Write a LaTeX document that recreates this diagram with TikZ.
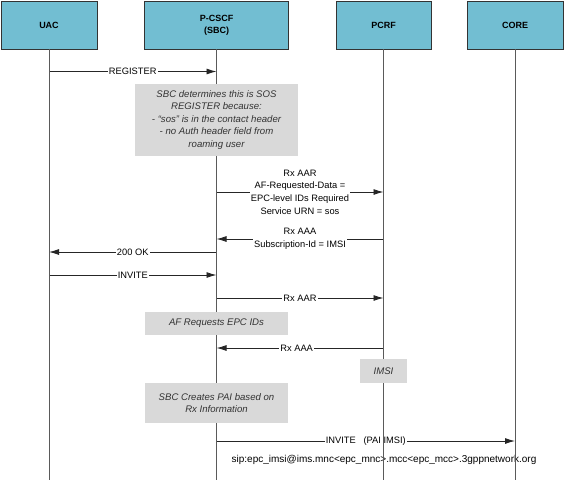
\documentclass[tikz,border=0pt]{standalone}
\usepackage{fontspec}
\setmainfont{Liberation Sans}
\usetikzlibrary{arrows.meta}
\definecolor{hdrfill}{RGB}{114,190,210}
\definecolor{notefill}{RGB}{217,217,217}
\definecolor{lifegray}{RGB}{90,90,90}
\tikzset{
  hdr/.style={draw=black!80, line width=0.9pt, fill=hdrfill, minimum height=48pt, inner sep=0pt, align=center, font=\fontsize{9}{12}\selectfont\bfseries},
  life/.style={draw=lifegray, line width=1pt},
  msg/.style={draw=black!85, line width=0.9pt, -{Latex[length=10pt,width=6pt]}},
  lbl/.style={fill=white, inner sep=1pt, align=center, font=\fontsize{9.3}{12.6}\selectfont},
  note/.style={fill=notefill, inner sep=0pt, align=center, text=black!80, font=\fontsize{9.6}{12.5}\selectfont\itshape},
  plain/.style={inner sep=0pt, font=\fontsize{10}{12}\selectfont}
}
\begin{document}
\begin{tikzpicture}[x=1pt,y=-1pt]
\useasboundingbox (0,0) rectangle (564,480);
% headers
\node[hdr, minimum width=96pt] (uac) at (49,25) {UAC};
\node[hdr, minimum width=144pt] (pcscf) at (216.5,25) {P-CSCF\\(SBC)};
\node[hdr, minimum width=95pt] (pcrf) at (383.5,25) {PCRF};
\node[hdr, minimum width=96pt] (core) at (515,25) {CORE};
% bottom ends of lifelines
\coordinate (uacE) at (49,480);
\coordinate (pcscfE) at (216.5,480);
\coordinate (pcrfE) at (383.5,480);
\coordinate (coreE) at (515,480);
% message levels
\coordinate (m1) at (0,71.5);
\coordinate (m2) at (0,192);
\coordinate (m3) at (0,239);
\coordinate (m4) at (0,252);
\coordinate (m5) at (0,275);
\coordinate (m6) at (0,298);
\coordinate (m7) at (0,348);
\coordinate (m8) at (0,441);
% messages
\draw[msg] (uac |- m1) -- node[lbl] (l1) {REGISTER} (pcscf |- m1);
\draw[msg] (pcscf |- m2) -- node[lbl] (l2) {Rx AAR\\AF-Requested-Data =\\EPC-level IDs Required\\Service URN = sos} (pcrf |- m2);
\draw[msg] (pcrf |- m3) -- node[lbl] (l3) {Rx AAA\\Subscription-Id = IMSI} (pcscf |- m3);
\draw[msg] (pcscf |- m4) -- node[lbl] (l4) {200 OK} (uac |- m4);
\draw[msg] (uac |- m5) -- node[lbl] (l5) {INVITE} (pcscf |- m5);
\draw[msg] (pcscf |- m6) -- node[lbl] (l6) {Rx AAR} (pcrf |- m6);
\draw[msg] (pcrf |- m7) -- node[lbl, pos=0.52] (l7) {Rx AAA} (pcscf |- m7);
\draw[msg] (pcscf |- m8) -- node[lbl] (l8) {INVITE\ \ \ (PAI IMSI)} (core |- m8);
\node[plain] (sip) at (384,460) {sip:epc\_imsi@ims.mnc<epc\_mnc>.mcc<epc\_mcc>.3gppnetwork.org};
% lifelines
\draw[life] (uac.south) -- (uacE);
\draw[life] (pcscf.south) -- (pcscfE);
\draw[life] (pcrf.south) -- (pcrfE);
\draw[life] (core.south) -- (coreE);
% notes
\node[note, minimum width=163pt, minimum height=72pt] (n1) at (216.5,120) {SBC determines this is SOS\\REGISTER because:\\- “sos” is in the contact header\\- no Auth header field from\\roaming user};
\node[note, minimum width=143pt, minimum height=23pt] (n2) at (216.5,323.5) {AF Requests EPC IDs};
\node[note, minimum width=47pt, minimum height=24pt] (n3) at (383.5,371) {IMSI};
\node[note, minimum width=143pt, minimum height=40pt] (n4) at (216.5,403) {SBC Creates PAI based on\\Rx Information};
\end{tikzpicture}
\end{document}
